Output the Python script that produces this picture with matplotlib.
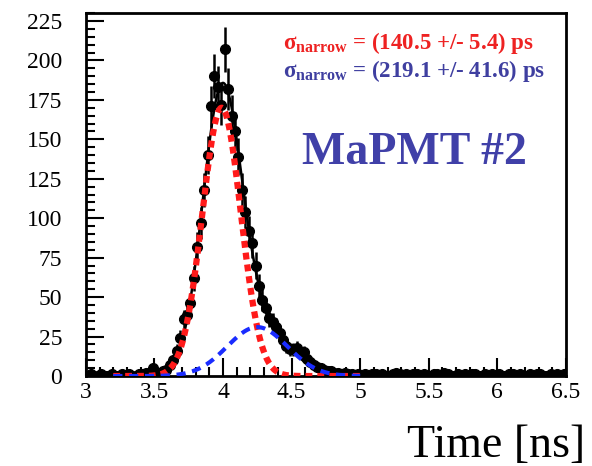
import numpy as np
import matplotlib.pyplot as plt
from matplotlib.ticker import MultipleLocator

plt.rcParams['font.family'] = ['Liberation Serif', 'DejaVu Serif']
plt.rcParams['mathtext.fontset'] = 'custom'
plt.rcParams['mathtext.rm'] = 'Liberation Serif:bold'
plt.rcParams['mathtext.it'] = 'Liberation Serif:bold'
plt.rcParams['mathtext.bf'] = 'Liberation Serif:bold'

# time histogram, 25 ps bins from 3.0 to 6.5 ns
bin_width = 0.025
t_min = 3.0
counts = [
    0, 1, 0, 0, 1, 0, 0, 1, 0, 0, 1, 0, 1, 0, 0, 1,
    1, 2, 0, 5, 2, 2, 3, 4, 7, 10, 16, 24, 36, 39,
    46, 62, 82, 97, 118, 140, 171, 190, 183, 172, 207, 182, 165, 155,
    139, 118, 104, 92, 84, 70, 57, 48, 43, 37, 34, 31, 27, 23, 19, 17,
    17, 18, 15, 15, 11, 9, 7, 6, 5, 4, 3, 3, 2, 2, 1, 2, 1, 1, 0, 1,
    0, 1, 0, 1, 1, 0, 1, 0, 0, 1, 2, 1, 0, 1, 0, 1, 1, 0, 1, 0,
    0, 1, 1, 0, 2, 1, 0, 0, 1, 0, 1, 0, 1, 1, 0, 0, 1, 0, 1, 0,
    1, 0, 0, 1, 1, 0, 1, 0, 0, 1, 0, 1, 1, 0, 0, 1, 0, 1, 0, 1,
]

# double gaussian fit parameters (ns)
narrow_amp, narrow_mean, narrow_sigma = 170.0, 3.99, 0.1405
wide_amp, wide_mean, wide_sigma = 31.0, 4.25, 0.2191
fit_range = (3.2, 5.0)

labels = [r'σ$_{\rm narrow}$ = (140.5 +/- 5.4) ps',
          r'σ$_{\rm narrow}$ = (219.1 +/- 41.6) ps']
title_text = 'MaPMT #2'


def gaus(x, a, m, s):
    return a * np.exp(-0.5 * ((x - m) / s) ** 2)


counts = np.array(counts, dtype=float)
centers = t_min + bin_width * (np.arange(len(counts)) + 0.5)
errors = np.sqrt(counts)

fig = plt.figure(figsize=(5.92, 4.66), dpi=100)
ax = fig.add_axes([0.145, 0.193, 0.811, 0.779])

tf = np.linspace(fit_range[0], fit_range[1], 500)
g1 = gaus(tf, narrow_amp, narrow_mean, narrow_sigma)
g2 = gaus(tf, wide_amp, wide_mean, wide_sigma)

ax.errorbar(centers, counts, yerr=errors, fmt='o', color='black', ms=7,
            elinewidth=1.8, capsize=0, zorder=3)
ax.plot(tf, g1 + g2, color='black', lw=1.8, zorder=4)
ax.plot(tf, g1, color='#ff1a1a', lw=4.5, ls=(0, (1.1, 0.8)), zorder=5)
ax.plot(tf, g2, color='#1a2cff', lw=3, ls=(0, (2.2, 1.6)), zorder=5)

ax.set_xlim(3.0, 6.5)
ax.set_ylim(0, 230)
ax.xaxis.set_major_locator(MultipleLocator(0.5))
ax.xaxis.set_minor_locator(MultipleLocator(0.1))
ax.yaxis.set_major_locator(MultipleLocator(25))
ax.yaxis.set_minor_locator(MultipleLocator(5))
ax.set_xticks([3, 3.5, 4, 4.5, 5, 5.5, 6, 6.5])
ax.set_xticklabels(['3', '3.5', '4', '4.5', '5', '5.5', '6', '6.5'])

ax.tick_params(which='both', direction='in', labelsize=17, width=1.5)
ax.tick_params(which='major', length=13)
ax.tick_params(which='minor', length=6.5)
ax.tick_params(axis='x', pad=4)
ax.tick_params(axis='y', pad=17)
for sp in ax.spines.values():
    sp.set_linewidth(2)

ax.text(0.41, 0.9, labels[0], transform=ax.transAxes, color='#ee2222',
        fontsize=16.5, fontweight='bold', va='baseline')
ax.text(0.41, 0.825, labels[1], transform=ax.transAxes, color='#3f3fa0',
        fontsize=16.5, fontweight='bold', va='baseline')
ax.text(0.685, 0.615, title_text, transform=ax.transAxes, color='#4040a8',
        fontsize=33, fontweight='bold', ha='center', va='center')

fig.text(0.988, 1 - 457 / 466, 'Time [ns]', fontsize=33, ha='right',
         va='baseline')

fig.savefig('out.png', dpi=100)
